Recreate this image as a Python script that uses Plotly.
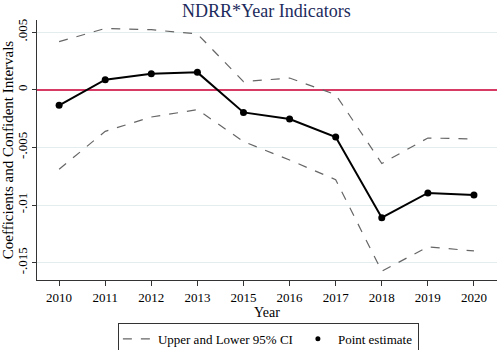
import plotly.graph_objects as go

years = ["2010", "2011", "2012", "2013", "2015", "2016", "2017", "2018", "2019", "2020"]
point_est = [-0.00136, 0.00087, 0.00139, 0.0015, -0.00197, -0.00254, -0.0041, -0.0111, -0.00895, -0.00913]
upper_ci = [0.00416, 0.00531, 0.0052, 0.00483, 0.0007, 0.00101, -0.00043, -0.0064, -0.00419, -0.00427]
lower_ci = [-0.0069, -0.00361, -0.00237, -0.00173, -0.0045, -0.0061, -0.0078, -0.01574, -0.01363, -0.01398]
ytick_vals = [-0.015, -0.01, -0.005, 0, 0.005]
ytick_text = ["-.015", "-.01", "-.005", "0", ".005"]

FONT = "Liberation Serif"
fig = go.Figure()

fig.add_trace(go.Scatter(x=years, y=upper_ci, mode="lines", name="Upper and Lower 95% CI",
                         line=dict(color="#666666", width=1.2, dash="dash"), legendgroup="ci"))
fig.add_trace(go.Scatter(x=years, y=lower_ci, mode="lines", showlegend=False,
                         line=dict(color="#666666", width=1.2, dash="dash"), legendgroup="ci"))
fig.add_trace(go.Scatter(x=years, y=point_est, mode="lines+markers", showlegend=False,
                         line=dict(color="black", width=2), marker=dict(color="black", size=7)))
fig.add_trace(go.Scatter(x=[None], y=[None], mode="markers", name="Point estimate",
                         marker=dict(color="black", size=5)))

fig.update_layout(
    width=498, height=350,
    margin=dict(l=37, r=1, t=20, b=70, autoexpand=False),
    paper_bgcolor="white", plot_bgcolor="white",
    font=dict(family=FONT, size=14, color="black"),
    title=dict(text="NDRR*Year Indicators", x=0.535, xanchor="center", y=0.97, yanchor="middle",
               font=dict(family=FONT, size=18, color="#1c2b5c"), automargin=False),
    xaxis=dict(type="category", range=[-0.48, 9.5], showgrid=False, automargin=False,
               showline=True, linecolor="#333333", linewidth=1,
               ticks="outside", ticklen=5, tickcolor="#333333",
               tickfont=dict(family=FONT, size=13),
               title=dict(text="Year", font=dict(family=FONT, size=14), standoff=0)),
    yaxis=dict(range=[-0.0165, 0.00604], tickvals=ytick_vals, ticktext=ytick_text, automargin=False,
               tickangle=-90, showgrid=True, gridcolor="#e4eded", gridwidth=1,
               zeroline=True, zerolinecolor="#d83a66", zerolinewidth=2,
               showline=True, linecolor="#333333", linewidth=1,
               ticks="outside", ticklen=4, tickcolor="#333333",
               tickfont=dict(family=FONT, size=13),
               title=dict(text="Coefficients and Confident Intervals", font=dict(family=FONT, size=15), standoff=2)),
    legend=dict(orientation="h", x=0.503, xanchor="center", y=-0.165, yanchor="top",
                bordercolor="#333333", borderwidth=1, bgcolor="white",
                font=dict(family=FONT, size=13), itemwidth=30, tracegroupgap=0),
)

fig.write_html("out.html", config={"displayModeBar": False},
               post_script="document.body.style.margin='0';document.body.style.overflow='hidden';")
